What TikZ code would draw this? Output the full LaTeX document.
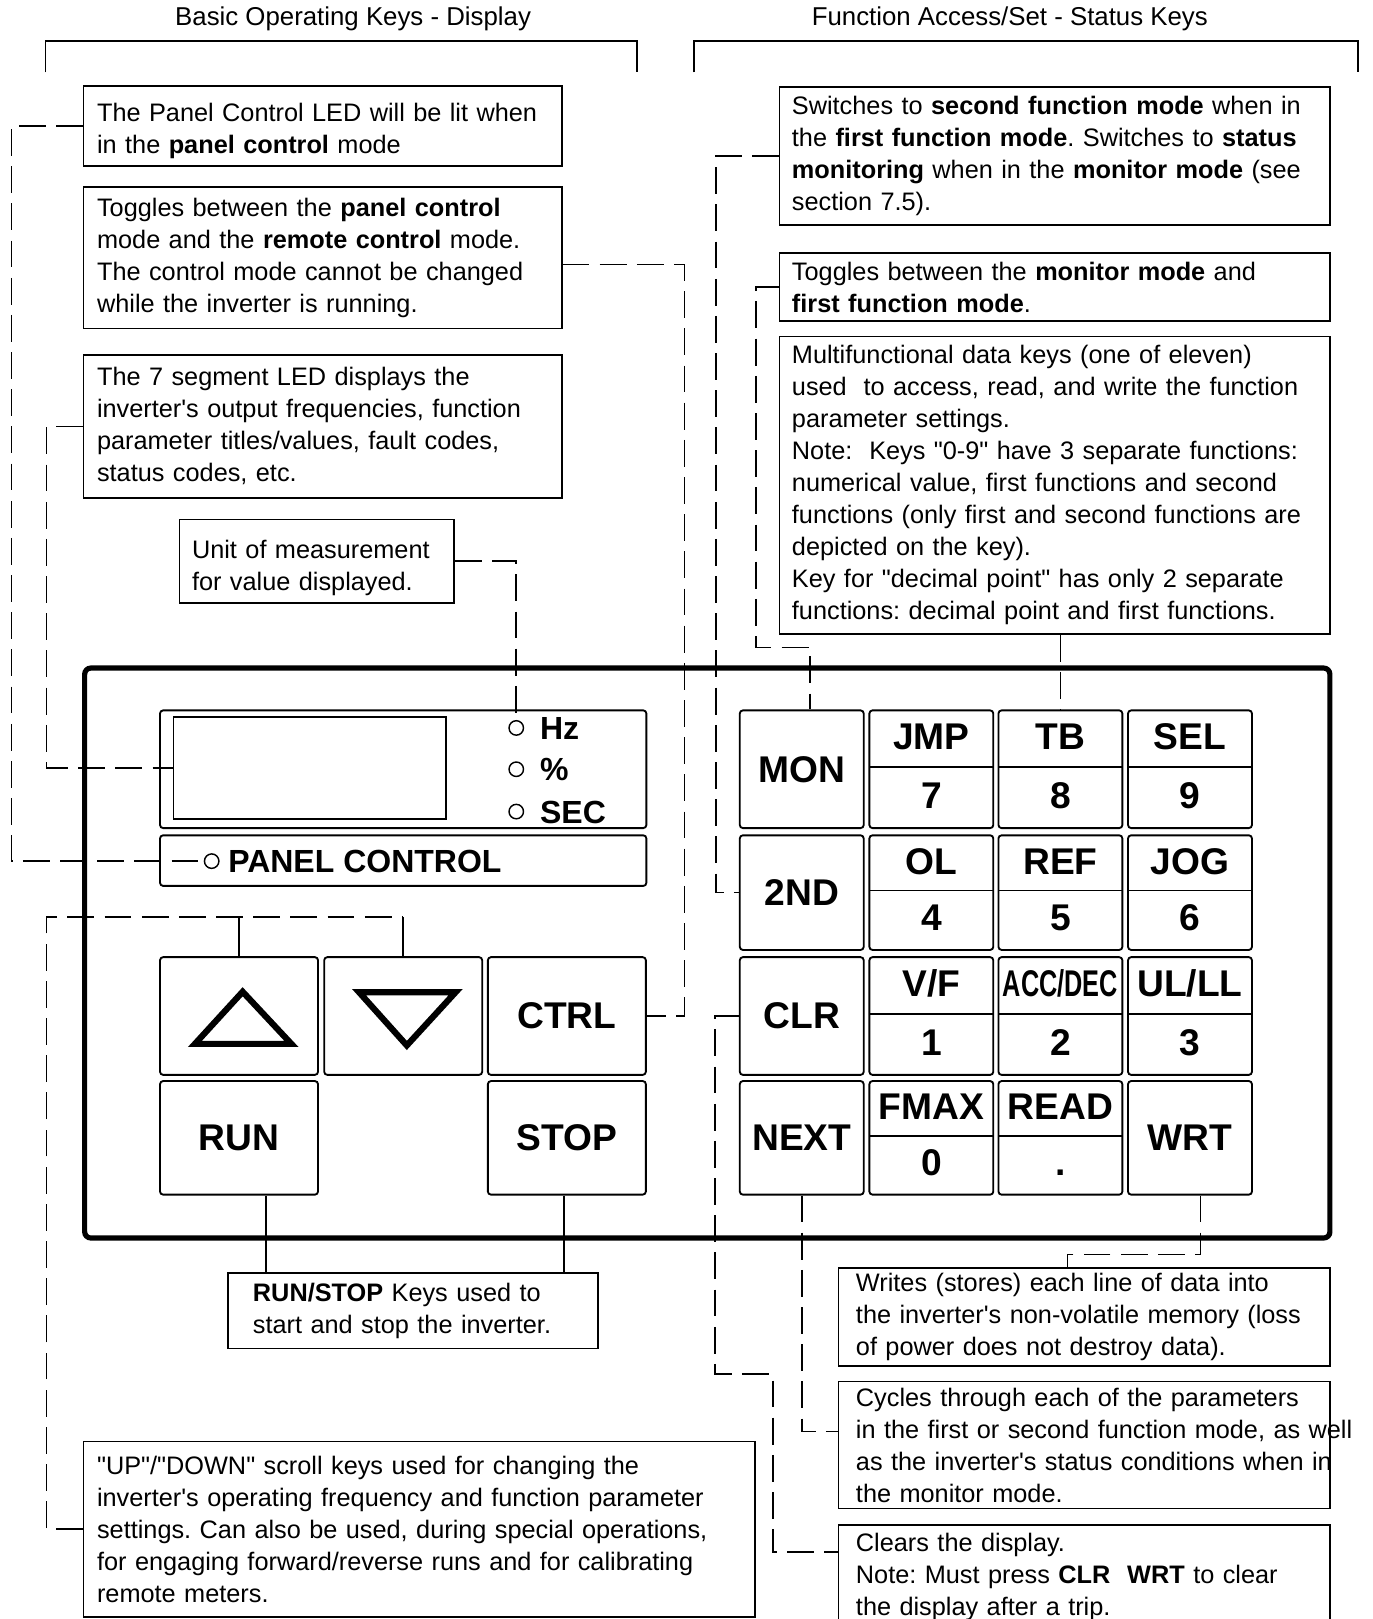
\documentclass[tikz,border=0pt]{standalone}
\usepackage{fontspec}
\usepackage{graphicx}
\setmainfont{Liberation Sans}
\newfontfamily\diagfont{Liberation Sans}
\usetikzlibrary{calc}
\frenchspacing
\newcommand\notetext{\diagfont\fontsize{12.25}{15.5}\selectfont}
\newcommand\hdrtext{\diagfont\fontsize{12.5}{15.5}\selectfont}
\newcommand\keytext{\diagfont\fontsize{18}{26}\selectfont\bfseries}
\newcommand\lamptext{\diagfont\fontsize{15.5}{18}\selectfont\bfseries}
\tikzset{
  note/.style={draw=black, line width=0.8pt, align=left, inner ysep=1pt, font=\notetext},
  hdr/.style={inner sep=0pt, font=\hdrtext},
  bracket/.style={line width=0.8pt},
  keybox/.style={draw=black, line width=0.9pt, rounded corners=1.5pt, inner sep=0pt, minimum width=60pt, minimum height=57pt, font=\keytext},
  bigkey/.style={keybox, minimum width=76.5pt},
  keylab/.style={inner sep=0pt, text height=12.9pt, text depth=0pt, font=\keytext},
  numkey/.style 2 args={keybox,
    path picture={\draw[line width=0.9pt] ([yshift=1pt]path picture bounding box.west) -- ([yshift=1pt]path picture bounding box.east);},
    label={[keylab, label distance=-19.5pt]north:#1},
    label={[keylab, label distance=-23pt]south:#2}},
  panelpart/.style={draw=black, line width=0.9pt, rounded corners=1.5pt, inner sep=0pt},
  lamp/.style={circle, draw=black, line width=0.7pt, minimum size=7pt, inner sep=0pt},
  lamplab/.style={inner sep=0pt, text height=11.1pt, text depth=0pt, label distance=7.5pt, font=\lamptext},
  arrowglyph/.style={line width=3pt, miter limit=10},
  lead/.style={line width=0.8pt, dash pattern=on 13pt off 5pt},
  stub/.style={line width=0.8pt}
}

\begin{document}
\begin{tikzpicture}[x=0.5pt, y=-0.5pt]
  \clip (0,0) rectangle (1329,1568);
  \useasboundingbox (0,0) rectangle (1329,1568);

  % headings
  \node[hdr] (hdrbasic) at (342,18) {Basic Operating Keys - Display};
  \node[hdr] (hdrfunc) at (978,18) {Function Access/Set - Status Keys};
  \draw[bracket] (44,70) |- (617,40) -- (617,70);
  \draw[bracket] (672,70) |- (1315,40) -- (1315,70);

  % notes, left side
  \node[note, inner xsep=6.5pt, text width=218.5pt, minimum height=39pt, text height=14pt] (pcnote) at (312.5,122)
    {The Panel Control LED will be lit when\\in the \textbf{panel control} mode};
  \node[note, inner xsep=6.5pt, text width=218.5pt, minimum height=68.5pt] (ctrlnote) at (312.5,249.5)
    {Toggles between the \textbf{panel control}\\mode and the \textbf{remote control} mode.\\The control mode cannot be changed\\while the inverter is running.};
  \node[note, inner xsep=6.5pt, text width=218.5pt, minimum height=69pt] (segnote) at (312.5,413)
    {The 7 segment LED displays the\\inverter's output frequencies, function\\parameter titles/values, fault codes,\\status codes, etc.};
  \node[note, inner xsep=6pt, text width=121pt, minimum height=40.5pt, text height=15pt] (unitnote) at (307,543.5)
    {Unit of measurement\\for value displayed.};

  % notes, right side
  \node[note, inner xsep=6pt, text width=254.5pt, minimum height=67pt] (sfnote) at (1021.5,151)
    {Switches to \textbf{second function mode} when in\\the \textbf{first function mode}. Switches to \textbf{status}\\\textbf{monitoring} when in the \textbf{monitor mode} (see\\section 7.5).};
  \node[note, inner xsep=6pt, text width=254.5pt, minimum height=33pt] (monnote) at (1021.5,278)
    {Toggles between the \textbf{monitor mode} and\\\textbf{first function mode}.};
  \node[note, inner xsep=6pt, text width=254.5pt, minimum height=144pt] (mfnote) at (1021.5,470)
    {Multifunctional data keys (one of eleven)\\used\ \ to access, read, and write the function\\parameter settings.\\Note:\ \ Keys "0-9" have 3 separate functions:\\numerical value, first functions and second\\functions (only first and second functions are\\depicted on the key).\\Key for "decimal point" has only 2 separate\\functions: decimal point and first functions.};

  % notes, bottom
  \node[note, inner xsep=12pt, text width=155pt, minimum height=36.5pt] (rsnote) at (400,1269.5)
    {\textbf{RUN/STOP} Keys used to\\start and stop the inverter.};
  \node[note, inner xsep=8.5pt, text width=221pt, minimum height=47.5pt] (wrtnote) at (1050,1275.5)
    {Writes (stores) each line of data into\\the inverter's non-volatile memory (loss\\of power does not destroy data).};
  \node[note, inner xsep=8.5pt, text width=221pt, minimum height=61.5pt] (nextnote) at (1050,1399.5)
    {Cycles through each of the parameters\\\mbox{in the first or second function mode, as well}\\\mbox{as the inverter's status conditions when in}\\the monitor mode.};
  \node[note, inner xsep=8.5pt, text width=221pt, minimum height=50pt] (clrnote) at (1050,1527)
    {Clears the display.\\Note: Must press \textbf{CLR\ \ WRT} to clear\\the display after a trip.};
  \node[note, inner xsep=6.5pt, text width=312pt, minimum height=85pt] (updnnote) at (406,1481)
    {"UP"/"DOWN" scroll keys used for changing the\\inverter's operating frequency and function parameter\\settings. Can also be used, during special operations,\\for engaging forward/reverse runs and for calibrating\\remote meters.};

  % keypad frame
  \draw[line width=2.5pt, rounded corners=3pt] (82,647) rectangle (1288,1199);

  % display and lamps
  \node[panelpart, minimum width=235.5pt, minimum height=57pt] (disp) at (390.5,745) {};
  \node[draw=black, line width=0.9pt, inner sep=0pt, minimum width=132pt, minimum height=49.5pt] (screen) at (300,743.5) {};
  \node[lamp, label={[lamplab]east:Hz}] (hzled) at (500,705) {};
  \node[lamp, label={[lamplab]east:\%}] (pctled) at (500,745) {};
  \node[lamp, label={[lamplab]east:SEC}] (secled) at (500,786) {};
  \node[panelpart, minimum width=235.5pt, minimum height=24.5pt] (pcbar) at (390.5,833.5) {};
  \node[lamp, label={[lamplab, label distance=4pt]east:PANEL CONTROL}] (pcled) at (205,834) {};

  % basic keys
  \node[bigkey] (kup) at (231.5,984) {};
  \node[bigkey] (kdown) at (390.5,984) {};
  \node[bigkey] (kctrl) at (549,984) {CTRL};
  \node[bigkey, minimum height=55pt] (krun) at (231.5,1102) {RUN};
  \node[bigkey, minimum height=55pt] (kstop) at (549,1102) {STOP};
  \draw[arrowglyph] (235,960.5) -- (188.8,1011) -- (282.2,1011) -- cycle;
  \draw[arrowglyph] (347.8,961) -- (441.2,961) -- (394,1012.5) -- cycle;

  % function keys
  \node[keybox] (kmon) at (776.5,745) {MON};
  \node[numkey={JMP}{7}] (k7) at (902,745) {};
  \node[numkey={TB}{8}] (k8) at (1027,745) {};
  \node[numkey={SEL}{9}] (k9) at (1152.5,745) {};
  \node[keybox, minimum height=55.5pt] (k2nd) at (776.5,864.5) {2ND};
  \node[numkey={OL}{4}, minimum height=55.5pt] (k4) at (902,864.5) {};
  \node[numkey={REF}{5}, minimum height=55.5pt] (k5) at (1027,864.5) {};
  \node[numkey={JOG}{6}, minimum height=55.5pt] (k6) at (1152.5,864.5) {};
  \node[keybox] (kclr) at (776.5,984) {CLR};
  \node[numkey={V/F}{1}] (k1) at (902,984) {};
  \node[numkey={\scalebox{0.68}[1]{ACC/DEC}}{2}] (k2) at (1027,984) {};
  \node[numkey={UL/LL}{3}] (k3) at (1152.5,984) {};
  \node[keybox, minimum height=55pt] (knext) at (776.5,1102) {NEXT};
  \node[numkey={FMAX}{0}, minimum height=55pt] (k0) at (902,1102) {};
  \node[numkey={READ}{.}, minimum height=55pt] (kdot) at (1027,1102) {};
  \node[keybox, minimum height=55pt] (kwrt) at (1152.5,1102) {WRT};

  % leaders
  \draw[lead] (pcnote.west) -- ++(-69,0) |- (pcled.west);
  \draw[lead] ([yshift=-3.25pt]ctrlnote.east) -- ++(118,0) |- (kctrl.east);
  \draw[lead] (segnote.west) -- ++(-35,0) |- (screen.west);
  \draw[lead] (unitnote.east) -| (hzled.north);
  \coordinate (updnbar) at ($(kdown.north)+(0,-38)$);
  \draw[lead] (updnnote.west) -- ++(-35,0) |- (updnbar);
  \draw[stub] (updnbar) -- (kdown.north);
  \draw[stub] (kup.north) -- (kup.north |- updnbar);
  \draw[stub] ([xshift=13pt]krun.south) -- ([xshift=13pt]krun.south |- rsnote.north);
  \draw[stub] ([xshift=-1.5pt]kstop.south) -- ([xshift=-1.5pt]kstop.south |- rsnote.north);
  \draw[lead] (sfnote.west) -- ++(-61,0) |- (k2nd.west);
  \draw[lead] (monnote.west) -- ++(-22,0) |- ($(kmon.north)+(8,-60)$) -- ([xshift=4pt]kmon.north);
  \draw[lead] (k8.north |- mfnote.south) -- (k8.north);
  \draw[lead] (kclr.west) -- ++(-23,0) |- ++(56,347) |- ($(clrnote.north west)+(0,27)$);
  \draw[lead] (knext.south) |- ([yshift=6.5pt]nextnote.west);
  \draw[lead] ([xshift=5pt]kwrt.south) -- ++(0,57) -| ([xshift=-8pt]wrtnote.north);
\end{tikzpicture}
\end{document}
